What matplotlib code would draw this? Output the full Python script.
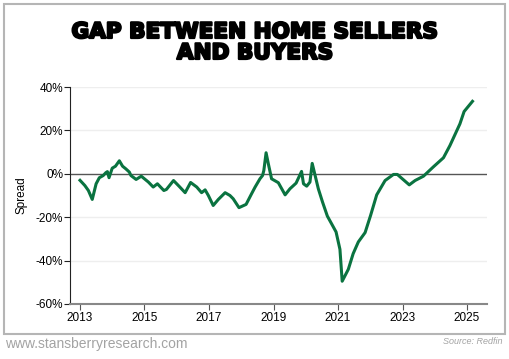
import matplotlib
matplotlib.use('Agg')
import matplotlib.pyplot as plt
import matplotlib.patheffects as pe
from matplotlib.patches import Rectangle
from matplotlib.ticker import FuncFormatter

# spread between sellers and buyers (decimal year, percent)
years = [2013.0, 2013.15, 2013.26, 2013.38, 2013.5, 2013.6, 2013.72, 2013.8, 2013.85, 2013.9,
         2014.0, 2014.1, 2014.22, 2014.32, 2014.42, 2014.53, 2014.58, 2014.74, 2014.9,
         2015.12, 2015.27, 2015.4, 2015.6, 2015.68, 2015.9, 2016.07, 2016.26, 2016.43,
         2016.62, 2016.77, 2016.88, 2016.98, 2017.13, 2017.29, 2017.5, 2017.65, 2017.75,
         2017.93, 2018.15, 2018.32, 2018.43, 2018.58, 2018.66, 2018.7, 2018.77, 2018.84,
         2018.94, 2019.15, 2019.36, 2019.51, 2019.7, 2019.87, 2019.93, 2020.03, 2020.13,
         2020.2, 2020.39, 2020.52, 2020.67, 2020.8, 2020.94, 2021.06, 2021.13, 2021.32,
         2021.47, 2021.63, 2021.84, 2022.01, 2022.2, 2022.46, 2022.72, 2022.84, 2023.21,
         2023.39, 2023.65, 2023.95, 2024.27, 2024.47, 2024.78, 2024.91, 2025.17]
spread = [-3.0, -5.4, -7.7, -11.8, -4.6, -1.8, -0.8, 0.5, 1.0, -1.8,
          2.6, 3.5, 6.0, 3.5, 2.3, 0.8, -0.8, -2.6, -1.1,
          -3.8, -6.1, -4.6, -7.7, -7.2, -3.1, -5.7, -8.7, -4.0,
          -6.1, -8.7, -7.4, -10.0, -14.6, -11.8, -8.7, -10.0, -11.5,
          -15.6, -14.1, -9.2, -6.1, -2.3, -0.8, 1.5, 9.7, 4.6,
          -2.3, -4.1, -9.7, -6.9, -4.3, 1.1, -4.6, -5.7, -3.8,
          4.8, -6.9, -13.0, -19.5, -23.0, -26.8, -34.8, -49.5, -44.0,
          -36.8, -31.4, -27.1, -19.2, -9.7, -3.1, -0.3, -0.3, -5.1,
          -3.1, -1.1, 3.1, 7.4, 13.0, 23.0, 28.7, 33.4]

xticks = [2013, 2015, 2017, 2019, 2021, 2023, 2025]
yticks = [-60, -40, -20, 0, 20, 40]

plt.rcParams['font.family'] = ['Liberation Sans', 'DejaVu Sans']

fig = plt.figure(figsize=(5.1, 3.59), dpi=100)

# grey frame round the chart
fig.patches.append(Rectangle((4 / 510, 1 - 334 / 359), 501 / 510, 330 / 359,
                             transform=fig.transFigure, fill=False,
                             edgecolor='#b5b5b5', linewidth=1.5))

ax = fig.add_axes([70 / 510, 1 - 304 / 359, 417 / 510, 217 / 359])

for y in [-40, -20, 20, 40]:
    ax.axhline(y, color='#eeeeee', linewidth=1, zorder=0)
ax.axhline(0, color='#555555', linewidth=1, zorder=1)

ax.plot(years, spread, color='#0a7340', linewidth=2.2, zorder=3)

ax.set_xlim(2012.69, 2025.62)
ax.set_ylim(-60, 40)
ax.set_xticks(xticks)
ax.set_yticks(yticks)
ax.yaxis.set_major_formatter(FuncFormatter(lambda v, p: '%d%%' % v))

for s in ['top', 'right']:
    ax.spines[s].set_visible(False)
ax.spines['left'].set_color('#222222')
ax.spines['bottom'].set_color('#888888')
ax.spines['bottom'].set_linewidth(1.5)
ax.tick_params(axis='y', length=4, color='#222222', labelsize=8.5, pad=1)
ax.tick_params(axis='x', length=4, color='#555555', labelsize=8.5, pad=2)
ax.set_ylabel('Spread', fontsize=8.5, labelpad=6)

stroke = [pe.withStroke(linewidth=1.6, foreground='black')]
fig.text(0.5, 1 - 38 / 359, 'GAP BETWEEN HOME SELLERS', ha='center', va='baseline',
         fontsize=15.5, fontweight='bold', family='DejaVu Sans', path_effects=stroke)
fig.text(0.5, 1 - 59 / 359, 'AND BUYERS', ha='center', va='baseline',
         fontsize=15.5, fontweight='bold', family='DejaVu Sans', path_effects=stroke)

fig.text(5 / 510, 1 - 344 / 359, 'www.stansberryresearch.com', ha='left', va='center',
         fontsize=10, color='#a3a3a3')
fig.text(503 / 510, 1 - 341 / 359, 'Source: Redfin', ha='right', va='center',
         fontsize=6.5, color='#a3a3a3', style='italic')

fig.savefig('out.png', dpi=100)
